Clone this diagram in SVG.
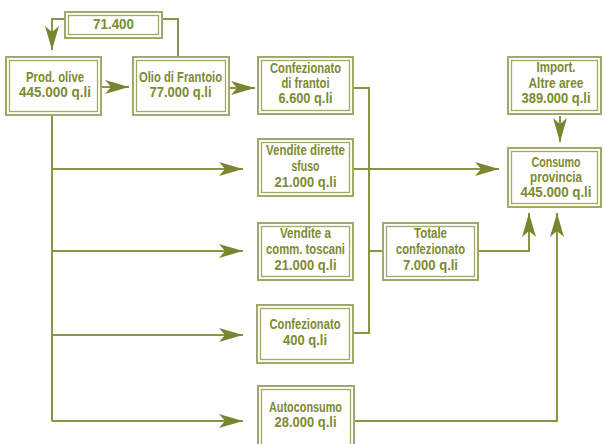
<svg xmlns="http://www.w3.org/2000/svg" width="604" height="444" viewBox="0 0 604 444">
<style>
.bo{fill:#fff;stroke:#a2a865;stroke-width:2}
.bi{fill:none;stroke:#a2a865;stroke-width:1.3}
.t{font-family:"Liberation Sans",Arial,sans-serif;font-weight:bold;font-size:14px;fill:#7d8a30;text-anchor:middle}
.c{fill:none;stroke:#8a9444;stroke-width:2}
</style>
<defs>
<marker id="ah" markerUnits="userSpaceOnUse" viewBox="0 0 24 14" refX="24" refY="7" markerWidth="24" markerHeight="14" orient="auto">
<path d="M0,0 L24,7 L0,14 L6,7 Z" fill="#7b8530"/>
</marker>
</defs>
<g id="connectors">
<path class="c" d="M64,19 H52 V50" marker-end="url(#ah)"/>
<path class="c" d="M163,19 H178 V56"/>
<path class="c" d="M102,87 H129" marker-end="url(#ah)"/>
<path class="c" d="M230,88 H255" marker-end="url(#ah)"/>
<path class="c" d="M52,116 V421"/>
<path class="c" d="M52,169 H243" marker-end="url(#ah)"/>
<path class="c" d="M52,251 H243" marker-end="url(#ah)"/>
<path class="c" d="M52,335 H243" marker-end="url(#ah)"/>
<path class="c" d="M52,421 H243" marker-end="url(#ah)"/>
<path class="c" d="M354,88 H369 V333 H354"/>
<path class="c" d="M369,251 H382"/>
<path class="c" d="M354,169 H499" marker-end="url(#ah)"/>
<path class="c" d="M479,251 H529 V213" marker-end="url(#ah)"/>
<path class="c" d="M354,421 H557 V213" marker-end="url(#ah)"/>
<path class="c" d="M560,116 V142" marker-end="url(#ah)"/>
</g>
<g id="n71400">
<rect class="bo" x="65" y="12" width="97" height="26"/>
<rect class="bi" x="68.5" y="15.5" width="90" height="19"/>
<text class="t" x="113.5" y="29" textLength="41" lengthAdjust="spacingAndGlyphs">71.400</text>
</g>
<g id="prodolive">
<rect class="bo" x="6" y="57" width="95" height="58"/>
<rect class="bi" x="9.5" y="60.5" width="88" height="51"/>
<text class="t" x="55" y="82" textLength="58" lengthAdjust="spacingAndGlyphs">Prod. olive</text>
<text class="t" x="55" y="97" textLength="72" lengthAdjust="spacingAndGlyphs">445.000 q.li</text>
</g>
<g id="olio">
<rect class="bo" x="133" y="57" width="96" height="58"/>
<rect class="bi" x="136.5" y="60.5" width="89" height="51"/>
<text class="t" x="180.5" y="82" textLength="83" lengthAdjust="spacingAndGlyphs">Olio di Frantoio</text>
<text class="t" x="180.5" y="97" textLength="62" lengthAdjust="spacingAndGlyphs">77.000 q.li</text>
</g>
<g id="confFrantoi">
<rect class="bo" x="258" y="57" width="95" height="57"/>
<rect class="bi" x="261.5" y="60.5" width="88" height="50"/>
<text class="t" x="305.5" y="73" textLength="71" lengthAdjust="spacingAndGlyphs">Confezionato</text>
<text class="t" x="305.5" y="88" textLength="48" lengthAdjust="spacingAndGlyphs">di frantoi</text>
<text class="t" x="305.5" y="103" textLength="54" lengthAdjust="spacingAndGlyphs">6.600 q.li</text>
</g>
<g id="venditeDirette">
<rect class="bo" x="258" y="139" width="95" height="57"/>
<rect class="bi" x="261.5" y="142.5" width="88" height="50"/>
<text class="t" x="305.5" y="155" textLength="79" lengthAdjust="spacingAndGlyphs">Vendite dirette</text>
<text class="t" x="305.5" y="171" textLength="28" lengthAdjust="spacingAndGlyphs">sfuso</text>
<text class="t" x="305.5" y="187" textLength="62" lengthAdjust="spacingAndGlyphs">21.000 q.li</text>
</g>
<g id="venditeComm">
<rect class="bo" x="258" y="223" width="95" height="57"/>
<rect class="bi" x="261.5" y="226.5" width="88" height="50"/>
<text class="t" x="305.5" y="238" textLength="51" lengthAdjust="spacingAndGlyphs">Vendite a</text>
<text class="t" x="305.5" y="254" textLength="79" lengthAdjust="spacingAndGlyphs">comm. toscani</text>
<text class="t" x="305.5" y="270" textLength="62" lengthAdjust="spacingAndGlyphs">21.000 q.li</text>
</g>
<g id="conf400">
<rect class="bo" x="257" y="305" width="96" height="58"/>
<rect class="bi" x="260.5" y="308.5" width="89" height="51"/>
<text class="t" x="305" y="329" textLength="71" lengthAdjust="spacingAndGlyphs">Confezionato</text>
<text class="t" x="305" y="345" textLength="44" lengthAdjust="spacingAndGlyphs">400 q.li</text>
</g>
<g id="autoconsumo">
<rect class="bo" x="258" y="386" width="96" height="64"/>
<rect class="bi" x="261.5" y="389.5" width="89" height="60"/>
<text class="t" x="305.5" y="412" textLength="73" lengthAdjust="spacingAndGlyphs">Autoconsumo</text>
<text class="t" x="305.5" y="427" textLength="62" lengthAdjust="spacingAndGlyphs">28.000 q.li</text>
</g>
<g id="totale">
<rect class="bo" x="383" y="223" width="95" height="57"/>
<rect class="bi" x="386.5" y="226.5" width="88" height="50"/>
<text class="t" x="430.5" y="238" textLength="33" lengthAdjust="spacingAndGlyphs">Totale</text>
<text class="t" x="430.5" y="254" textLength="69" lengthAdjust="spacingAndGlyphs">confezionato</text>
<text class="t" x="430.5" y="270" textLength="55" lengthAdjust="spacingAndGlyphs">7.000 q.li</text>
</g>
<g id="import">
<rect class="bo" x="508" y="57" width="93" height="57"/>
<rect class="bi" x="511.5" y="60.5" width="86" height="50"/>
<text class="t" x="556" y="72" textLength="39" lengthAdjust="spacingAndGlyphs">Import.</text>
<text class="t" x="556" y="88" textLength="55" lengthAdjust="spacingAndGlyphs">Altre aree</text>
<text class="t" x="556" y="103" textLength="69" lengthAdjust="spacingAndGlyphs">389.000 q.li</text>
</g>
<g id="consumo">
<rect class="bo" x="508" y="148" width="93" height="59"/>
<rect class="bi" x="511.5" y="151.5" width="86" height="52"/>
<text class="t" x="556" y="167" textLength="49" lengthAdjust="spacingAndGlyphs">Consumo</text>
<text class="t" x="556" y="182" textLength="52" lengthAdjust="spacingAndGlyphs">provincia</text>
<text class="t" x="556" y="197" textLength="71" lengthAdjust="spacingAndGlyphs">445.000 q.li</text>
</g>
</svg>
